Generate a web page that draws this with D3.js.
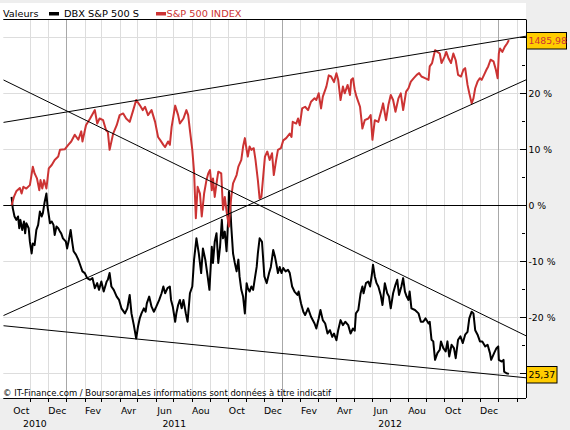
<!DOCTYPE html>
<html><head><meta charset="utf-8">
<script src="https://cdn.jsdelivr.net/npm/d3@7"></script>
<style>body{margin:0;background:#EEEEEE;}svg{display:block;}text{font-family:"DejaVu Sans",Verdana,sans-serif;}</style>
</head><body><svg id="c" width="570" height="430"></svg>
<script>
const monthNames = ["Jan","Fev","Mar","Avr","Mai","Jun","Jul","Aou","Sep","Oct","Nov","Dec"];
const yearLabels = ["2010","2011","2012"];
const yTicks = [-30,-20,-10,0,10,20,30];
const yLabelTicks = [-20,-10,0,10,20];
const yMinorTicks = [-25,-15,-5,5,15,25];
const seriesNames = ["DBX S&P 500 S","S&P 500 INDEX"];
const lastValues = ["25,37","1485,98"];
const footerText = "\u00A9 IT-Finance.com / BoursoramaLes informations sont donn\u00E9es \u00E0 titre indicatif";
const dateRange = ["2010-09-16","2013-02-17"];

const sp500 = [["2010-09-30",0],["2010-10-04",1.5],["2010-10-08",2.5],["2010-10-14",3.1],["2010-10-17",2.1],["2010-10-20",3.3],["2010-10-25",3.0],["2010-10-31",3.6],["2010-11-05",6.9],["2010-11-08",5.7],["2010-11-12",4.8],["2010-11-16",2.7],["2010-11-18",4.5],["2010-11-21",3.0],["2010-11-24",4.5],["2010-11-28",3.0],["2010-12-02",6.6],["2010-12-07",7.2],["2010-12-12",8.1],["2010-12-18",8.7],["2010-12-21",9.9],["2010-12-29",10.0],["2011-01-04",10.8],["2011-01-09",11.4],["2011-01-15",12.6],["2011-01-21",11.7],["2011-01-26",13.2],["2011-01-28",11.4],["2011-02-03",14.3],["2011-02-10",15.5],["2011-02-18",17.0],["2011-02-22",14.6],["2011-02-26",15.5],["2011-03-04",15.2],["2011-03-09",13.4],["2011-03-12",13.1],["2011-03-15",9.9],["2011-03-21",12.8],["2011-03-27",14.3],["2011-04-01",16.1],["2011-04-07",16.4],["2011-04-12",15.5],["2011-04-18",14.9],["2011-04-24",17.0],["2011-04-29",18.8],["2011-05-05",17.9],["2011-05-10",17.0],["2011-05-14",17.6],["2011-05-19",16.1],["2011-05-25",17.0],["2011-05-31",14.9],["2011-06-05",12.2],["2011-06-09",11.6],["2011-06-14",10.8],["2011-06-17",10.4],["2011-06-22",11.4],["2011-06-25",10.8],["2011-06-28",14.0],["2011-07-04",17.8],["2011-07-09",16.1],["2011-07-12",14.6],["2011-07-18",15.5],["2011-07-23",17.0],["2011-07-26",16.1],["2011-07-29",13.4],["2011-08-02",9.9],["2011-08-05",6.0],["2011-08-08",-2.3],["2011-08-11",3.3],["2011-08-15",2.1],["2011-08-18",-2.0],["2011-08-22",2.1],["2011-08-26",4.5],["2011-08-29",5.7],["2011-09-01",6.3],["2011-09-04",2.7],["2011-09-06",4.8],["2011-09-09",1.5],["2011-09-12",3.9],["2011-09-15",6.0],["2011-09-20",5.7],["2011-09-23",-0.8],["2011-09-26",1.5],["2011-09-29",-1.1],["2011-10-03",-3.8],["2011-10-05",-0.8],["2011-10-07",1.5],["2011-10-10",3.9],["2011-10-16",5.4],["2011-10-19",6.9],["2011-10-24",8.1],["2011-10-27",10.5],["2011-10-30",12.0],["2011-11-02",9.9],["2011-11-04",8.7],["2011-11-07",10.5],["2011-11-10",9.9],["2011-11-14",10.2],["2011-11-17",8.1],["2011-11-21",4.5],["2011-11-24",1.2],["2011-11-27",1.5],["2011-11-30",5.1],["2011-12-03",8.7],["2011-12-07",9.6],["2011-12-11",8.1],["2011-12-15",9.3],["2011-12-18",5.4],["2011-12-22",8.1],["2011-12-25",9.9],["2011-12-30",10.2],["2012-01-03",11.6],["2012-01-08",12.0],["2012-01-14",12.8],["2012-01-17",12.2],["2012-01-19",14.9],["2012-01-25",14.6],["2012-01-28",15.5],["2012-01-31",14.3],["2012-02-04",17.3],["2012-02-09",17.6],["2012-02-14",17.0],["2012-02-19",18.5],["2012-02-25",19.1],["2012-02-28",18.8],["2012-03-03",20.0],["2012-03-07",17.3],["2012-03-10",19.4],["2012-03-16",21.2],["2012-03-20",23.2],["2012-03-24",23.0],["2012-03-29",22.0],["2012-04-02",23.6],["2012-04-05",22.4],["2012-04-09",18.8],["2012-04-13",21.2],["2012-04-16",20.0],["2012-04-21",21.5],["2012-04-25",19.7],["2012-04-27",22.4],["2012-04-30",22.7],["2012-05-03",20.6],["2012-05-06",19.4],["2012-05-12",17.6],["2012-05-16",13.7],["2012-05-20",15.2],["2012-05-26",15.5],["2012-05-30",16.1],["2012-06-02",11.7],["2012-06-06",15.2],["2012-06-12",14.9],["2012-06-18",17.3],["2012-06-20",18.2],["2012-06-25",15.2],["2012-06-29",17.9],["2012-07-03",19.7],["2012-07-07",18.8],["2012-07-11",16.7],["2012-07-16",19.1],["2012-07-20",20.0],["2012-07-24",17.0],["2012-07-29",20.3],["2012-08-02",20.9],["2012-08-06",22.1],["2012-08-11",22.7],["2012-08-16",23.3],["2012-08-20",23.6],["2012-08-24",23.0],["2012-08-30",22.7],["2012-09-05",22.4],["2012-09-07",24.8],["2012-09-11",25.4],["2012-09-16",27.7],["2012-09-20",27.4],["2012-09-24",27.1],["2012-09-27",25.4],["2012-10-02",26.5],["2012-10-05",27.4],["2012-10-09",26.2],["2012-10-13",25.4],["2012-10-17",27.1],["2012-10-21",25.9],["2012-10-25",23.3],["2012-10-30",23.0],["2012-11-03",24.2],["2012-11-06",24.5],["2012-11-10",21.5],["2012-11-13",20.0],["2012-11-17",18.2],["2012-11-20",19.1],["2012-11-23",20.9],["2012-11-27",22.1],["2012-12-01",22.7],["2012-12-04",22.4],["2012-12-08",23.3],["2012-12-12",24.2],["2012-12-15",24.8],["2012-12-19",26.0],["2012-12-24",25.7],["2012-12-28",24.2],["2012-12-31",22.7],["2013-01-02",27.1],["2013-01-04",28.0],["2013-01-08",27.4],["2013-01-12",28.3],["2013-01-16",28.9],["2013-01-19",29.5]];

const dbx = [["2010-09-30",1.5],["2010-10-02",-0.5],["2010-10-05",-2.0],["2010-10-08",-2.6],["2010-10-11",-2.0],["2010-10-13",-4.1],["2010-10-15",-2.6],["2010-10-18",-4.4],["2010-10-21",-2.9],["2010-10-23",-5.0],["2010-10-25",-3.2],["2010-10-29",-4.1],["2010-10-31",-6.5],["2010-11-03",-8.6],["2010-11-05",-6.8],["2010-11-08",-7.1],["2010-11-11",-4.4],["2010-11-14",-3.5],["2010-11-17",-1.1],["2010-11-20",-2.0],["2010-11-22",-1.4],["2010-11-25",0.6],["2010-11-28",2.1],["2010-11-30",-0.3],["2010-12-04",-3.2],["2010-12-07",-2.9],["2010-12-10",-3.5],["2010-12-12",-5.3],["2010-12-15",-3.8],["2010-12-18",-4.1],["2010-12-21",-4.7],["2010-12-23",-5.0],["2010-12-26",-5.9],["2010-12-31",-6.5],["2011-01-02",-7.7],["2011-01-05",-6.2],["2011-01-08",-4.4],["2011-01-11",-6.8],["2011-01-13",-8.2],["2011-01-17",-8.8],["2011-01-21",-9.7],["2011-01-23",-10.3],["2011-01-26",-11.2],["2011-01-28",-11.8],["2011-02-01",-12.1],["2011-02-05",-13.0],["2011-02-10",-13.3],["2011-02-14",-13.0],["2011-02-18",-14.8],["2011-02-22",-13.9],["2011-02-25",-15.1],["2011-03-01",-13.6],["2011-03-05",-15.4],["2011-03-10",-13.6],["2011-03-12",-13.3],["2011-03-15",-12.1],["2011-03-18",-14.5],["2011-03-22",-15.1],["2011-03-27",-16.3],["2011-03-31",-16.9],["2011-04-04",-18.4],["2011-04-10",-19.3],["2011-04-14",-18.4],["2011-04-18",-16.0],["2011-04-21",-19.3],["2011-04-25",-21.4],["2011-04-29",-23.8],["2011-05-02",-21.7],["2011-05-05",-20.2],["2011-05-08",-19.3],["2011-05-12",-18.4],["2011-05-15",-19.0],["2011-05-17",-17.5],["2011-05-21",-16.3],["2011-05-25",-18.1],["2011-05-29",-19.0],["2011-06-02",-18.1],["2011-06-07",-16.9],["2011-06-11",-15.7],["2011-06-14",-14.5],["2011-06-17",-15.7],["2011-06-21",-14.8],["2011-06-25",-14.5],["2011-06-27",-16.9],["2011-06-30",-18.1],["2011-07-04",-20.8],["2011-07-06",-19.3],["2011-07-09",-17.8],["2011-07-12",-16.9],["2011-07-15",-18.4],["2011-07-18",-16.9],["2011-07-22",-19.3],["2011-07-25",-20.8],["2011-07-29",-15.7],["2011-08-02",-14.5],["2011-08-05",-9.7],["2011-08-09",-5.9],["2011-08-13",-8.6],["2011-08-17",-12.1],["2011-08-20",-7.7],["2011-08-24",-9.7],["2011-08-28",-12.7],["2011-08-31",-15.1],["2011-09-04",-7.4],["2011-09-06",-10.3],["2011-09-09",-6.5],["2011-09-12",-5.0],["2011-09-15",-10.3],["2011-09-18",-7.4],["2011-09-21",-2.6],["2011-09-23",-5.9],["2011-09-26",-4.7],["2011-09-29",-8.2],["2011-10-02",-2.0],["2011-10-03",2.4],["2011-10-05",0.4],["2011-10-07",-3.8],["2011-10-10",-8.6],["2011-10-13",-10.3],["2011-10-16",-11.8],["2011-10-19",-9.7],["2011-10-21",-12.7],["2011-10-24",-15.1],["2011-10-27",-16.3],["2011-10-30",-19.3],["2011-11-02",-13.9],["2011-11-04",-14.8],["2011-11-07",-15.4],["2011-11-10",-14.5],["2011-11-13",-15.1],["2011-11-16",-13.0],["2011-11-19",-11.0],["2011-11-21",-8.6],["2011-11-24",-5.9],["2011-11-28",-6.5],["2011-12-02",-12.7],["2011-12-06",-13.9],["2011-12-10",-12.1],["2011-12-13",-11.0],["2011-12-17",-8.0],["2011-12-20",-9.2],["2011-12-22",-10.3],["2011-12-25",-12.1],["2011-12-28",-11.0],["2011-12-31",-12.1],["2012-01-03",-11.2],["2012-01-07",-11.8],["2012-01-11",-11.5],["2012-01-14",-12.1],["2012-01-18",-14.5],["2012-01-22",-15.4],["2012-01-27",-16.0],["2012-01-29",-15.4],["2012-02-02",-17.5],["2012-02-06",-19.0],["2012-02-09",-19.6],["2012-02-14",-18.4],["2012-02-19",-19.9],["2012-02-25",-21.1],["2012-02-28",-22.0],["2012-03-03",-20.2],["2012-03-06",-18.7],["2012-03-10",-20.5],["2012-03-14",-21.1],["2012-03-18",-22.9],["2012-03-22",-22.3],["2012-03-26",-23.5],["2012-03-29",-22.9],["2012-04-02",-24.1],["2012-04-05",-22.3],["2012-04-09",-20.5],["2012-04-13",-21.4],["2012-04-17",-20.8],["2012-04-22",-21.4],["2012-04-26",-22.9],["2012-04-30",-22.0],["2012-05-03",-22.4],["2012-05-05",-19.3],["2012-05-09",-18.7],["2012-05-13",-15.7],["2012-05-16",-14.5],["2012-05-18",-15.7],["2012-05-22",-13.9],["2012-05-26",-13.6],["2012-05-29",-14.5],["2012-06-01",-12.4],["2012-06-03",-10.6],["2012-06-06",-12.7],["2012-06-09",-13.9],["2012-06-12",-14.5],["2012-06-16",-16.0],["2012-06-19",-17.8],["2012-06-23",-13.9],["2012-06-27",-15.7],["2012-06-30",-16.3],["2012-07-03",-18.4],["2012-07-07",-15.7],["2012-07-11",-14.2],["2012-07-14",-13.3],["2012-07-17",-16.0],["2012-07-21",-14.5],["2012-07-24",-13.0],["2012-07-27",-15.4],["2012-07-30",-16.3],["2012-08-02",-16.9],["2012-08-04",-15.4],["2012-08-07",-18.4],["2012-08-13",-18.7],["2012-08-19",-19.3],["2012-08-23",-20.8],["2012-08-27",-20.8],["2012-08-31",-20.2],["2012-09-05",-21.1],["2012-09-07",-20.8],["2012-09-10",-24.0],["2012-09-13",-24.3],["2012-09-16",-27.6],["2012-09-20",-26.4],["2012-09-24",-25.8],["2012-09-26",-24.3],["2012-09-30",-25.5],["2012-10-04",-26.1],["2012-10-07",-24.3],["2012-10-10",-27.0],["2012-10-14",-24.9],["2012-10-18",-25.5],["2012-10-21",-27.3],["2012-10-25",-24.0],["2012-10-29",-23.4],["2012-11-02",-24.6],["2012-11-06",-23.1],["2012-11-10",-22.6],["2012-11-13",-20.2],["2012-11-17",-19.0],["2012-11-20",-19.3],["2012-11-23",-22.3],["2012-11-27",-23.1],["2012-12-01",-24.3],["2012-12-05",-24.3],["2012-12-10",-25.2],["2012-12-14",-24.9],["2012-12-18",-26.4],["2012-12-20",-27.6],["2012-12-25",-26.4],["2012-12-29",-25.5],["2013-01-01",-25.2],["2013-01-02",-27.6],["2013-01-07",-27.9],["2013-01-10",-27.6],["2013-01-11",-29.7],["2013-01-15",-30.0],["2013-01-19",-30.1]];

const trendLines = [
  [["2010-09-16",14.8],["2013-02-17",30.2]],
  [["2010-09-16",-19.7],["2013-02-17",22.4]],
  [["2010-09-16",22.4],["2013-02-17",-23.3]],
  [["2010-09-16",-21.5],["2013-02-17",-30.8]]
];

const FONT = 9.3;
const L = 3.3, R = 526, T = 19.5, B = 398;
const parse = d3.timeParse("%Y-%m-%d");
const x = d3.scaleTime().domain(dateRange.map(parse)).range([L, R]);
const y = d3.scaleLinear().domain([-34.41, 33.18]).range([B, T]);

const svg = d3.select("#c");
svg.append("rect").attr("width",570).attr("height",430).attr("fill","#EEEEEE");
svg.append("rect").attr("x",0).attr("y",3).attr("width",R).attr("height",B-3).attr("fill","#FFFFFF");

svg.append("defs").append("clipPath").attr("id","clip")
  .append("rect").attr("x",L).attr("y",T).attr("width",R-L).attr("height",B-T);

// gridlines
const months = d3.timeMonth.range(parse("2010-11-01"), x.domain()[1]);
const grid = svg.append("g");
grid.selectAll("line.h").data(yTicks.filter(v=>v!==0)).join("line")
  .attr("x1",L).attr("x2",R).attr("y1",d=>Math.round(y(d))+0.5).attr("y2",d=>Math.round(y(d))+0.5)
  .attr("stroke","#DDDDDD").attr("stroke-width",1);
grid.selectAll("line.v").data(months).join("line")
  .attr("x1",d=>Math.round(x(d))+0.5).attr("x2",d=>Math.round(x(d))+0.5).attr("y1",T).attr("y2",B)
  .attr("stroke",d=>d.getMonth()===0?"#A8A8A8":"#DDDDDD").attr("stroke-width",1);
grid.append("line").attr("x1",L).attr("x2",R).attr("y1",Math.round(y(0))+0.5).attr("y2",Math.round(y(0))+0.5)
  .attr("stroke","#000").attr("stroke-width",1);

// series
const line = d3.line().x(d=>x(parse(d[0]))).y(d=>y(d[1]));
const plot = svg.append("g").attr("clip-path","url(#clip)");
plot.append("path").datum(dbx).attr("d",line).attr("fill","none").attr("stroke","#000000").attr("stroke-width",2).attr("stroke-linejoin","round");
plot.append("path").datum(sp500).attr("d",line).attr("fill","none").attr("stroke","#CC3333").attr("stroke-width",2).attr("stroke-linejoin","round");
plot.selectAll("path.t").data(trendLines).join("path").attr("d",line).attr("fill","none").attr("stroke","#000").attr("stroke-width",1);

// footer
svg.append("text").attr("x",3).attr("y",396).attr("font-size",8.4).attr("fill","#000")
  .attr("textLength",328).attr("lengthAdjust","spacingAndGlyphs").text(footerText);

// bottom axis
svg.append("line").attr("x1",L).attr("x2",R).attr("y1",B+0.5).attr("y2",B+0.5).attr("stroke","#000");
svg.selectAll("line.mt").data(months).join("line")
  .attr("x1",d=>Math.round(x(d))+0.5).attr("x2",d=>Math.round(x(d))+0.5).attr("y1",B).attr("y2",B+4).attr("stroke","#000");
const labelMonths = d3.timeMonth.range(parse("2010-10-01"), parse("2013-01-01")).filter(d=>d.getMonth()%2===1);
svg.selectAll("text.ml").data(labelMonths).join("text")
  .attr("x",d=>(x(d)+x(d3.timeMonth.offset(d,1)))/2).attr("y",414)
  .attr("text-anchor","middle").attr("font-size",FONT).text(d=>monthNames[d.getMonth()]);
svg.selectAll("text.yl").data(yearLabels).join("text")
  .attr("x",d=>{const a=Math.max(x(parse(d+"-01-01")),L), b=Math.min(x(parse((+d+1)+"-01-01")),R); return (a+b)/2;})
  .attr("y",427).attr("text-anchor","middle").attr("font-size",FONT).text(d=>d);

// right axis
svg.append("line").attr("x1",R+0.5).attr("x2",R+0.5).attr("y1",T).attr("y2",B).attr("stroke","#000");
svg.selectAll("line.yt").data(yTicks).join("line")
  .attr("x1",R-6).attr("x2",R).attr("y1",d=>Math.round(y(d))+0.5).attr("y2",d=>Math.round(y(d))+0.5).attr("stroke","#000");
svg.selectAll("line.ymt").data(yMinorTicks).join("line")
  .attr("x1",R-4).attr("x2",R-1).attr("y1",d=>Math.round(y(d))+0.5).attr("y2",d=>Math.round(y(d))+0.5).attr("stroke","#000");
svg.selectAll("text.ytl").data(yLabelTicks).join("text")
  .attr("x",R+2.5).attr("y",d=>y(d)+3.6).attr("font-size",FONT).text(d=>d+" %");

// legend
svg.append("line").attr("x1",L).attr("x2",R).attr("y1",19.5).attr("y2",19.5).attr("stroke","#000");
svg.append("text").attr("x",3).attr("y",17).attr("font-size",FONT)
  .attr("textLength",35.5).attr("lengthAdjust","spacingAndGlyphs").text("Valeurs");
const lg = [{name:seriesNames[0],color:"#000000",sx:49,tx:64},{name:seriesNames[1],color:"#CC3333",sx:156,tx:166.5}];
svg.selectAll("rect.lg").data(lg).join("rect").attr("x",d=>d.sx).attr("y",12).attr("width",10).attr("height",3.5).attr("fill",d=>d.color);
svg.selectAll("text.lg").data(lg).join("text").attr("x",d=>d.tx).attr("y",17).attr("font-size",FONT)
  .attr("textLength",75).attr("lengthAdjust","spacingAndGlyphs").attr("fill",d=>d.color).text(d=>d.name);

// last value boxes
const boxes = [
  {label:lastValues[0], v:dbx[dbx.length-1][1], w:30.5, color:"#000000"},
  {label:lastValues[1], v:sp500[sp500.length-1][1], w:40, color:"#CC3333"}
];
const bg = svg.selectAll("g.box").data(boxes).join("g");
bg.append("rect").attr("x",R+0.5).attr("y",d=>Math.round(y(d.v))-8+0.5).attr("width",d=>d.w).attr("height",16.5)
  .attr("fill","#FFCC00").attr("stroke","#000").attr("stroke-width",1);
bg.append("text").attr("x",R+2.5).attr("y",d=>Math.round(y(d.v))+4).attr("font-size",FONT).attr("fill",d=>d.color).text(d=>d.label);
</script></body></html>
